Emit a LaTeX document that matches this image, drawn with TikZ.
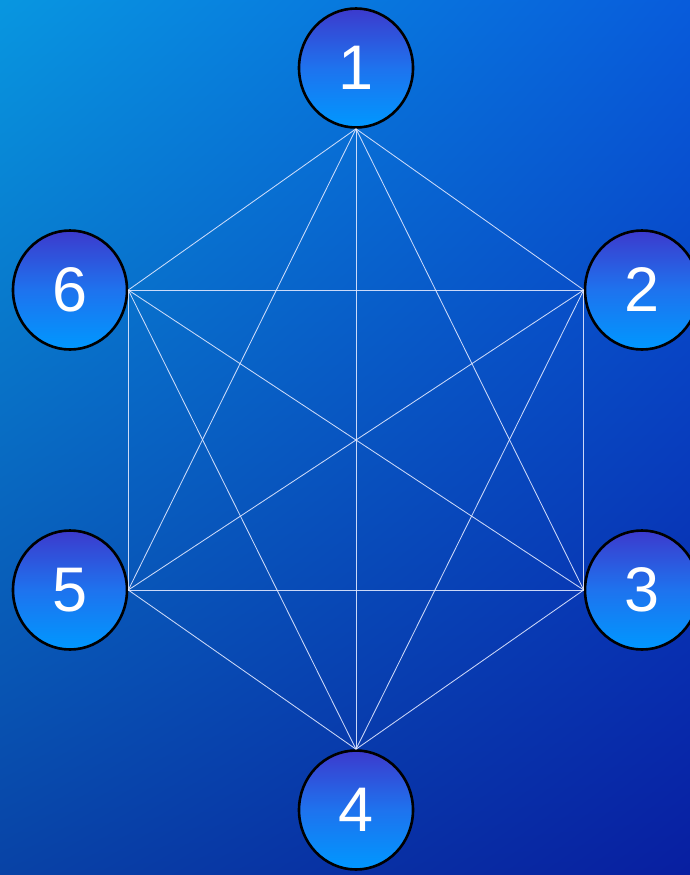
\documentclass[tikz,border=0pt]{standalone}
\usepackage{fontspec}
\setmainfont{Liberation Sans}
\usetikzlibrary{shapes.geometric}
\definecolor{ndTop}{RGB}{60,58,205}
\definecolor{ndMid}{RGB}{30,115,238}
\definecolor{ndBot}{RGB}{0,152,255}
\definecolor{edgeC}{RGB}{225,232,255}
\pgfdeclarefunctionalshading{bgshade}{\pgfpointorigin}{\pgfpoint{100bp}{100bp}}{}{
  25 sub 50 div exch 25 sub 50 div exch
  2 copy mul -0.09 mul 0.26 add
  exch dup 0.33 mul 3 -1 roll add
  3 -1 roll dup -0.14 mul 3 -1 roll add
  exch -0.02 mul 3 -1 roll 0.23 mul add 0.65 add
  0.03 3 1 roll
}
\tikzset{
  vert/.style={ellipse, draw=black, line width=2.6pt, minimum width=114pt, minimum height=119pt,
    inner sep=0pt, top color=ndTop, bottom color=ndBot, middle color=ndMid,
    text=white, font=\fontsize{63}{70}\selectfont},
  link/.style={draw=edgeC, line width=0.85pt, opacity=0.9}
}
\begin{document}
\begin{tikzpicture}[x=1pt,y=-1pt]
\useasboundingbox (0,0) rectangle (690,875);
\shade[shading=bgshade] (0,0) rectangle (690,875);
\node[vert] (n1) at (356,68) {1};
\node[vert] (n2) at (642,290) {2};
\node[vert] (n3) at (642,590) {3};
\node[vert] (n4) at (356,810) {4};
\node[vert] (n5) at (70,590) {5};
\node[vert] (n6) at (70,290) {6};
\coordinate (p1) at (n1.south);
\coordinate (p2) at (n2.west);
\coordinate (p3) at (n3.west);
\coordinate (p4) at (n4.north);
\coordinate (p5) at (n5.east);
\coordinate (p6) at (n6.east);
\foreach \a/\b in {1/2,1/3,1/4,1/5,1/6,2/3,2/4,2/5,2/6,3/4,3/5,3/6,4/5,4/6,5/6}
  \draw[link] (p\a) -- (p\b);
\end{tikzpicture}
\end{document}
